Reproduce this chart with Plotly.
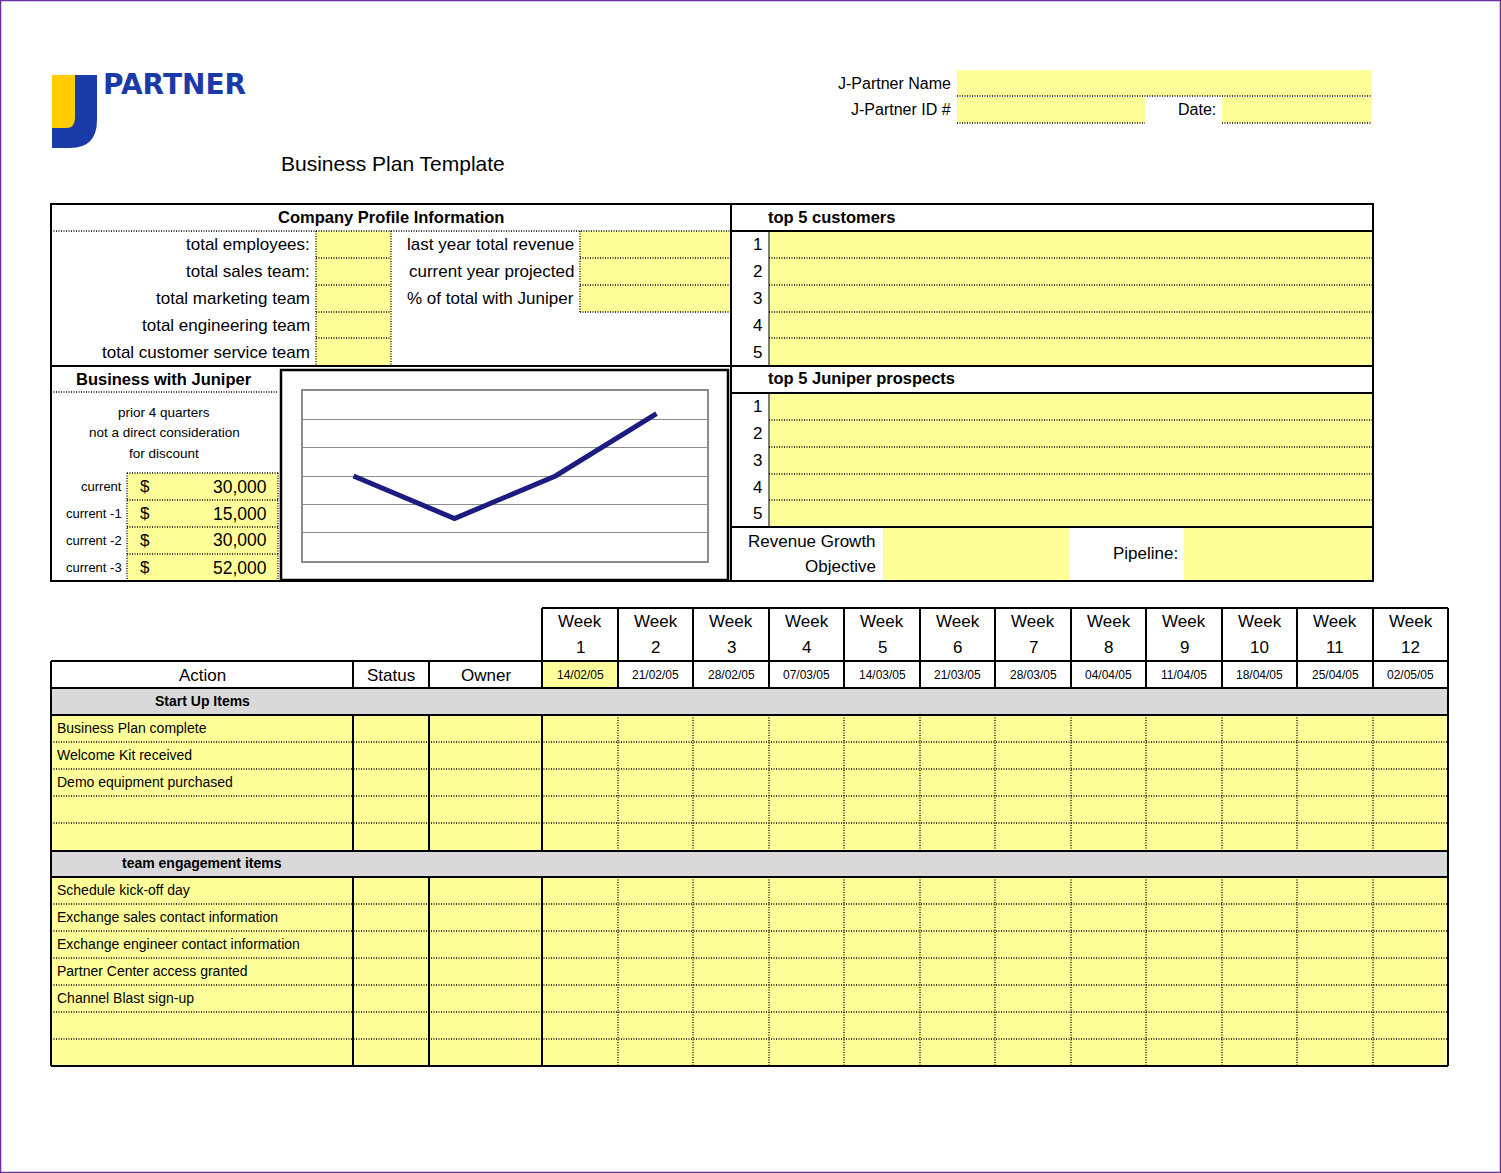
import plotly.graph_objects as go

# ---------------- data ----------------
quarters = ["current", "current -1", "current -2", "current -3"]
revenue = [30000, 15000, 30000, 52000]

profile_labels = ["total employees:", "total sales team:", "total marketing team",
                  "total engineering team", "total customer service team"]
revenue_labels = ["last year total revenue", "current year projected", "% of total with Juniper"]
rank_numbers = ["1", "2", "3", "4", "5"]
notes = ["prior 4 quarters", "not a direct consideration", "for discount"]

week_numbers = ["1", "2", "3", "4", "5", "6", "7", "8", "9", "10", "11", "12"]
week_dates = ["14/02/05", "21/02/05", "28/02/05", "07/03/05", "14/03/05", "21/03/05",
              "28/03/05", "04/04/05", "11/04/05", "18/04/05", "25/04/05", "02/05/05"]
table_headers = ["Action", "Status", "Owner"]
startup_items = ["Business Plan complete", "Welcome Kit received", "Demo equipment purchased", "", ""]
team_items = ["Schedule kick-off day", "Exchange sales contact information",
              "Exchange engineer contact information", "Partner Center access granted",
              "Channel Blast sign-up", "", ""]

# ---------------- helpers ----------------
W, H = 1501, 1173
YEL = "#FFFF99"
GRAY = "#D9D9D9"
FONT = "Liberation Sans, Arial, sans-serif"
DOT = "1px,1.5px"


def X(x):
    return x / W


def Y(y):
    return 1 - y / H


shapes = []
annotations = []


def rect(x0, y0, x1, y1, fill=None, lw=0, color="black", dash=None):
    d = dict(type="rect", xref="paper", yref="paper", x0=X(x0), x1=X(x1), y0=Y(y1), y1=Y(y0),
             line=dict(width=lw, color=color))
    if dash:
        d["line"]["dash"] = dash
    if fill:
        d["fillcolor"] = fill
    shapes.append(d)


def line(x0, y0, x1, y1, lw=1, color="black", dash=None):
    d = dict(type="line", xref="paper", yref="paper", x0=X(x0), x1=X(x1), y0=Y(y0), y1=Y(y1),
             line=dict(width=lw, color=color))
    if dash:
        d["line"]["dash"] = dash
        d["line"]["width"] = 1.3
    shapes.append(d)


def text(x, y, s, size=16, anchor="left", bold=False, color="black", family=FONT):
    if bold:
        s = "<b>" + s + "</b>"
    annotations.append(dict(xref="paper", yref="paper", x=X(x), y=Y(y), text=s, showarrow=False,
                            xanchor=anchor, yanchor="middle",
                            font=dict(size=size, color=color, family=family)))


# ---------------- header ----------------
# logo
rect(52, 75, 76, 128, fill="#FFCC00")
path = "M {} {} L {} {} L {} {} ".format(X(75), Y(75), X(97), Y(75), X(97), Y(120))
path += "Q {} {} {} {} ".format(X(97), Y(148), X(70), Y(148))
path += "L {} {} L {} {} L {} {} ".format(X(52), Y(148), X(52), Y(128), X(66), Y(128))
path += "Q {} {} {} {} Z".format(X(75), Y(128), X(75), Y(118))
shapes.append(dict(type="path", xref="paper", yref="paper", path=path,
                   fillcolor="#1A3AA8", line=dict(width=0)))
text(101, 85, "PARTNER", size=28, bold=True, color="#1A3AA8", family="DejaVu Sans, Arial Black, sans-serif")

text(279, 163, "Business Plan Template", size=21)

rect(957, 70, 1372, 96, fill=YEL)
line(957, 96, 1372, 96, dash=DOT)
rect(957, 97, 1145, 123, fill=YEL)
line(957, 123, 1145, 123, dash=DOT)
rect(1222, 97, 1372, 123, fill=YEL)
line(1222, 123, 1372, 123, dash=DOT)
text(953, 83, "J-Partner Name", size=16, anchor="right")
text(953, 110, "J-Partner ID #", size=16, anchor="right")
text(1218, 110, "Date:", size=16, anchor="right")

# ---------------- company profile ----------------
row_tops = [231, 258, 285, 312, 338, 366]
rect(316, 231, 391, 366, fill=YEL)
rect(580, 231, 730, 312, fill=YEL)
rect(769, 231, 1372, 366, fill=YEL)
rect(769, 393, 1372, 527, fill=YEL)
rect(883, 528, 1070, 580, fill=YEL)
rect(1184, 528, 1372, 580, fill=YEL)
rect(127, 473, 278, 581, fill=YEL)

text(391, 217, "Company Profile Information", size=16.5, anchor="center", bold=True)
line(51, 231, 731, 231, dash=DOT)
for i, lab in enumerate(profile_labels):
    yc = (row_tops[i] + row_tops[i + 1]) / 2
    text(312, yc, lab, size=17, anchor="right")
    if i < 4:
        line(316, row_tops[i + 1], 391, row_tops[i + 1], dash=DOT)
line(316, 231, 316, 366, dash=DOT)
line(391, 231, 391, 366, dash=DOT)
for i, lab in enumerate(revenue_labels):
    yc = (row_tops[i] + row_tops[i + 1]) / 2
    text(576, yc, lab, size=17, anchor="right")
    line(580, row_tops[i + 1], 730, row_tops[i + 1], dash=DOT)
line(580, 231, 580, 312, dash=DOT)

# top 5 customers
text(766, 217, "top 5 customers", size=16.5, bold=True)
line(731, 231, 1373, 231, lw=2)
line(769, 231, 769, 366, lw=1)
for i, n in enumerate(rank_numbers):
    yc = (row_tops[i] + row_tops[i + 1]) / 2
    text(764, yc, n, size=17, anchor="right")
    if i < 4:
        line(769, row_tops[i + 1], 1372, row_tops[i + 1], dash=DOT)

# top 5 prospects
p_tops = [393, 420, 447, 474, 500, 527]
text(766, 378, "top 5 Juniper prospects", size=16.5, bold=True)
line(731, 393, 1373, 393, lw=2)
line(769, 393, 769, 527, lw=1)
for i, n in enumerate(rank_numbers):
    yc = (p_tops[i] + p_tops[i + 1]) / 2
    text(764, yc, n, size=17, anchor="right")
    if i < 4:
        line(769, p_tops[i + 1], 1372, p_tops[i + 1], dash=DOT)
line(731, 527, 1373, 527, lw=2)
text(878, 541, "Revenue Growth", size=17, anchor="right")
text(878, 566, "Objective", size=17, anchor="right")
text(1180, 553, "Pipeline:", size=17, anchor="right")

# business with juniper
text(164, 379, "Business with Juniper", size=16.5, anchor="center", bold=True)
line(51, 392, 278, 392, dash=DOT)
for i, s in enumerate(notes):
    text(164, 412 + 20.5 * i, s, size=13.5, anchor="center")
q_tops = [473, 500, 527, 554, 581]
for i, (q, v) in enumerate(zip(quarters, revenue)):
    yc = (q_tops[i] + q_tops[i + 1]) / 2
    text(124, yc, q, size=13, anchor="right")
    text(138, yc, "$", size=17)
    text(269, yc, "{:,}".format(v), size=17.5, anchor="right")
    line(127, q_tops[i], 278, q_tops[i], dash=DOT)
line(127, 473, 127, 581, dash=DOT)
line(278, 473, 278, 581, dash=DOT)

# chart frame
rect(281, 370, 728, 580, lw=2.5)

# section borders
line(51, 366, 1373, 366, lw=2)
line(731, 204, 731, 581, lw=2)
rect(51, 204, 1373, 581, lw=2)

# ---------------- lower table ----------------
wx = [542, 618, 693, 769, 844, 920, 995, 1071, 1146, 1222, 1297, 1373, 1448]
rect(542, 661, 618, 688, fill=YEL)
for i in range(12):
    xc = (wx[i] + wx[i + 1]) / 2
    text(xc, 621, "Week", size=17, anchor="center")
    text(xc, 647, week_numbers[i], size=17, anchor="center")
    text(xc, 674.5, week_dates[i], size=12, anchor="center")

cols = [51, 353, 429, 542]
for i, hd in enumerate(table_headers):
    text((cols[i] + cols[i + 1]) / 2, 675, hd, size=17, anchor="center")

# row layout
s_rows = [715, 742, 769, 796, 823, 851]
t_rows = [877, 904, 931, 958, 985, 1012, 1039, 1066]
rect(51, 688, 1448, 715, fill=GRAY)
rect(51, 715, 1448, 851, fill=YEL)
rect(51, 851, 1448, 877, fill=GRAY)
rect(51, 877, 1448, 1066, fill=YEL)
text(202, 701, "Start Up Items", size=14, anchor="center", bold=True)
text(202, 863, "team engagement items", size=14, anchor="center", bold=True)

for rows, items in ((s_rows, startup_items), (t_rows, team_items)):
    for i, it in enumerate(items):
        yc = (rows[i] + rows[i + 1]) / 2 - 1
        if it:
            text(55, yc, it, size=14)
        if i < len(items) - 1:
            line(51, rows[i + 1], 1448, rows[i + 1], dash=DOT)
    for x in wx[1:-1]:
        line(x, rows[0], x, rows[-1], dash=DOT)

# solid lines
line(542, 608, 1448, 608, lw=2)
line(51, 661, 1448, 661, lw=2)
line(51, 688, 1448, 688, lw=2)
line(51, 715, 1448, 715, lw=2)
line(51, 851, 1448, 851, lw=2)
line(51, 877, 1448, 877, lw=2)
line(51, 1066, 1448, 1066, lw=2)
for x in wx:
    line(x, 608, x, 688, lw=2)
for x in [51, 353, 429]:
    line(x, 661, x, 688, lw=2)
for x in [51, 353, 429, 542, 1448]:
    line(x, 715, x, 851, lw=2)
    line(x, 877, x, 1066, lw=2)
line(51, 688, 51, 877, lw=2)
line(1448, 688, 1448, 877, lw=2)

# page border
rect(0.5, 0.5, W - 0.5, H - 0.5, lw=1.5, color="#6B2FA0")

# ---------------- chart ----------------
fig = go.Figure()
fig.add_trace(go.Scatter(x=quarters, y=revenue, mode="lines",
                         line=dict(color="#1C1C80", width=5), hoverinfo="skip", showlegend=False))
fig.update_layout(
    width=W, height=H, margin=dict(l=0, r=0, t=0, b=0),
    paper_bgcolor="white", plot_bgcolor="white",
    shapes=shapes, annotations=annotations, showlegend=False,
    xaxis=dict(domain=[X(303), X(707)], range=[-0.5, 3.5], showticklabels=False, showgrid=False,
               zeroline=False, showline=True, mirror=True, linecolor="#8C8C8C", linewidth=1.5,
               ticks=""),
    yaxis=dict(domain=[Y(561), Y(391)], range=[0, 60000], dtick=10000, showticklabels=False,
               showgrid=True, gridcolor="#8C8C8C", gridwidth=1, zeroline=False, showline=True,
               mirror=True, linecolor="#8C8C8C", linewidth=1.5, ticks=""),
)
fig.write_html("out.html", config={"displayModeBar": False},
               post_script="document.body.style.margin='0';document.body.style.overflow='hidden';")
